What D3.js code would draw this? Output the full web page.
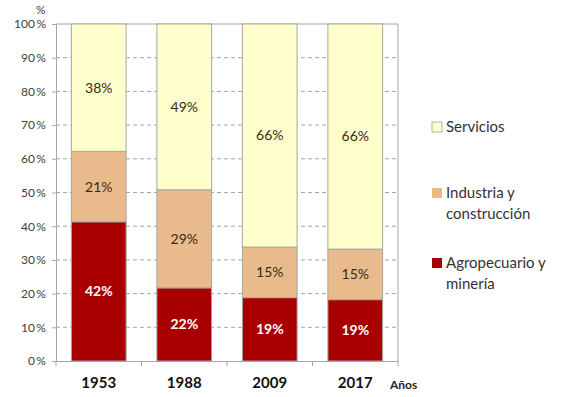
<!DOCTYPE html>
<html>
<head>
<meta charset="utf-8">
<script src="https://cdn.jsdelivr.net/npm/d3@7"></script>
<style>
  body { margin: 0; background: #fff; }
  svg text { font-family: Lato, "Noto Sans", sans-serif; }
</style>
</head>
<body>
<svg id="chart"></svg>
<script>
const years = ["1953", "1988", "2009", "2017"];
const seriesNames = ["Agropecuario y minería", "Industria y construcción", "Servicios"];
// bar heights (%)
const agro = [41.3, 21.7, 18.8, 18.2];
const industria = [20.9, 29.1, 15.0, 15.0];
const servicios = [37.8, 49.2, 66.2, 66.8];
// printed labels
const agroLabels = ["42%", "22%", "19%", "19%"];
const industriaLabels = ["21%", "29%", "15%", "15%"];
const serviciosLabels = ["38%", "49%", "66%", "66%"];
const yTicks = [0, 10, 20, 30, 40, 50, 60, 70, 80, 90, 100];

const width = 562, height = 397;
const margin = { top: 24, right: 164, bottom: 36, left: 56 };
const colors = ["#a80000", "#e8ba8c", "#ffffcc"];
const legendLines = [["Servicios"], ["Industria y", "construcción"], ["Agropecuario y", "minería"]];

const svg = d3.select("#chart").attr("width", width).attr("height", height);

const x = d3.scaleBand()
  .domain(years)
  .range([margin.left, width - margin.right])
  .paddingInner(0.36)
  .paddingOuter(0.18);

const y = d3.scaleLinear()
  .domain([0, 100])
  .range([height - margin.bottom, margin.top]);

const table = years.map((yr, i) => ({
  year: yr,
  [seriesNames[0]]: agro[i],
  [seriesNames[1]]: industria[i],
  [seriesNames[2]]: servicios[i]
}));
const labels = [agroLabels, industriaLabels, serviciosLabels];
const stacked = d3.stack().keys(seriesNames)(table);

// gridlines
svg.append("g")
  .selectAll("line")
  .data(yTicks.filter((d) => d > 0 && d < 100))
  .join("line")
  .attr("x1", margin.left)
  .attr("x2", width - margin.right)
  .attr("y1", (d) => y(d))
  .attr("y2", (d) => y(d))
  .attr("stroke", "#a6a6a6")
  .attr("stroke-width", 1)
  .attr("stroke-dasharray", "4,3");

// frame top + right
svg.append("path")
  .attr("d", `M${margin.left},${y(100)}H${width - margin.right}V${y(0)}`)
  .attr("fill", "none")
  .attr("stroke", "#a6a6a6");

// bars
const layers = svg.append("g")
  .selectAll("g")
  .data(stacked)
  .join("g")
  .attr("fill", (d, i) => colors[i]);

layers.selectAll("rect")
  .data((d) => d)
  .join("rect")
  .attr("x", (d) => x(d.data.year))
  .attr("width", x.bandwidth())
  .attr("y", (d) => y(d[1]))
  .attr("height", (d) => y(d[0]) - y(d[1]))
  .attr("stroke", "#a6a6a6")
  .attr("stroke-width", 1);

layers.selectAll("text")
  .data((d, i) => d.map((v, j) => ({ v, label: labels[i][j], series: i })))
  .join("text")
  .attr("x", (d) => x(d.v.data.year) + x.bandwidth() / 2)
  .attr("y", (d) => y((d.v[0] + d.v[1]) / 2))
  .attr("dy", "0.35em")
  .attr("text-anchor", "middle")
  .attr("font-size", 14)
  .attr("font-weight", (d) => (d.series === 0 ? "bold" : "normal"))
  .attr("fill", (d) => (d.series === 0 ? "#ffffff" : "#3a2a1a"))
  .text((d) => d.label);

// y axis
const yAxis = svg.append("g")
  .attr("transform", `translate(${margin.left},0)`)
  .call(d3.axisLeft(y).tickValues(yTicks).tickSize(4).tickPadding(6).tickFormat((d) => d + "\u2009%"));
yAxis.select(".domain").attr("stroke", "#a6a6a6");
yAxis.selectAll(".tick line").attr("stroke", "#a6a6a6");
yAxis.selectAll(".tick text")
  .attr("font-size", 12)
  .attr("fill", "#404040")
  .style("font-family", "Lato, sans-serif");

// x axis with ticks between categories
const xAxis = svg.append("g")
  .attr("transform", `translate(0,${y(0)})`)
  .call(d3.axisBottom(x).tickSize(0).tickPadding(16));
xAxis.select(".domain").attr("stroke", "#a6a6a6");
xAxis.selectAll(".tick text")
  .attr("font-size", 15)
  .attr("font-weight", "bold")
  .attr("fill", "#111")
  .style("font-family", "Lato, sans-serif");

const boundaries = d3.range(years.length + 1).map((i) => margin.left + i * (width - margin.right - margin.left) / years.length);
xAxis.selectAll(".sep")
  .data(boundaries)
  .join("line")
  .attr("class", "sep")
  .attr("x1", (d) => d)
  .attr("x2", (d) => d)
  .attr("y1", 0)
  .attr("y2", 5)
  .attr("stroke", "#a6a6a6");

svg.append("text")
  .attr("x", 390)
  .attr("y", 389)
  .attr("font-size", 12)
  .attr("font-weight", "bold")
  .attr("fill", "#222")
  .text("Años");

svg.append("text")
  .attr("x", 36)
  .attr("y", 14)
  .attr("font-size", 12)
  .attr("fill", "#404040")
  .text("%");

// legend
const legendY = [127, 193, 263];
const legend = svg.append("g")
  .selectAll("g")
  .data([2, 1, 0])
  .join("g")
  .attr("transform", (d, i) => `translate(432,${legendY[i]})`);

legend.append("rect")
  .attr("x", 0)
  .attr("y", -5)
  .attr("width", 10)
  .attr("height", 10)
  .attr("fill", (d) => colors[d])
  .attr("stroke", (d) => (d === 2 ? "#b0b0b0" : "none"));

legend.each(function(d, i) {
  d3.select(this).selectAll("text")
    .data(legendLines[i])
    .join("text")
    .attr("x", 14)
    .attr("y", (t, k) => k * 21)
    .attr("dy", "0.35em")
    .attr("font-size", 15)
    .attr("fill", "#333")
    .text((t) => t);
});
</script>
</body>
</html>
